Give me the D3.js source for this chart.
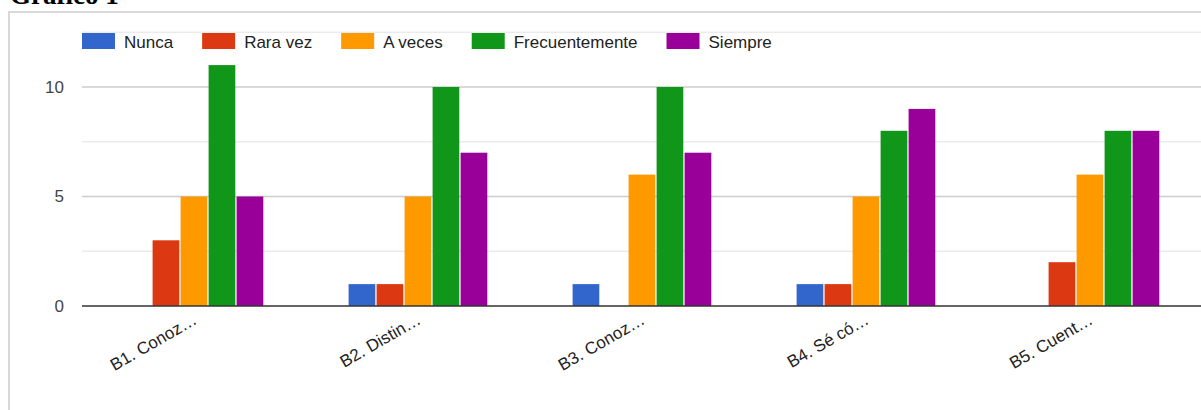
<!DOCTYPE html>
<html>
<head>
<meta charset="utf-8">
<script src="https://cdn.jsdelivr.net/npm/d3@7"></script>
<style>
  body { margin: 0; background: #fff; }
  svg { display: block; font-family: Arial, "Liberation Sans", sans-serif; }
</style>
</head>
<body>
<svg width="1201" height="410"></svg>
<script>
var svg = d3.select("svg"),
  width = +svg.attr("width"),
  height = +svg.attr("height");

// data
var categories = ["B1. Conoz…", "B2. Distin…", "B3. Conoz…", "B4. Sé có…", "B5. Cuent…"];
var seriesNames = ["Nunca", "Rara vez", "A veces", "Frecuentemente", "Siempre"];
var colors = ["#3366cc", "#dc3912", "#ff9900", "#109618", "#990099"];
var nunca = [0, 1, 1, 1, 0];
var raraVez = [3, 1, 0, 1, 2];
var aVeces = [5, 5, 6, 5, 6];
var frecuentemente = [11, 10, 10, 8, 8];
var siempre = [5, 7, 7, 9, 8];
var majorTicks = [0, 5, 10];
var minorTicks = [2.5, 7.5, 12.5];

var values = [nunca, raraVez, aVeces, frecuentemente, siempre];

// chart frame (partly cut title + box)
svg.append("text")
  .attr("x", 10).attr("y", 4)
  .style("font-family", "'Liberation Serif', 'Times New Roman', serif")
  .style("font-weight", "bold")
  .style("font-size", "27px")
  .attr("fill", "#000")
  .text("Gráfico 1");

svg.append("path")
  .attr("d", "M9,410 V12 H1201")
  .attr("fill", "none")
  .attr("stroke", "#d9d9d9")
  .attr("stroke-width", 2);

// scales
var x0 = d3.scaleBand()
  .domain(categories)
  .range([82, 1202])
  .paddingInner(0.375)
  .paddingOuter(0.1875);

var x1 = d3.scaleBand()
  .domain(seriesNames)
  .range([0, x0.bandwidth()]);

var y = d3.scaleLinear()
  .domain([0, 12.5])
  .range([306, 32.25]);

// gridlines
var grid = svg.append("g");
grid.selectAll("line.minor")
  .data(minorTicks)
  .enter().append("line")
  .attr("class", "minor")
  .attr("x1", 82).attr("x2", width)
  .attr("y1", function(d) { return y(d); })
  .attr("y2", function(d) { return y(d); })
  .attr("stroke", "#ebebeb").attr("stroke-width", 1.5);
grid.selectAll("line.major")
  .data(majorTicks.filter(function(d) { return d > 0; }))
  .enter().append("line")
  .attr("class", "major")
  .attr("x1", 82).attr("x2", width)
  .attr("y1", function(d) { return y(d); })
  .attr("y2", function(d) { return y(d); })
  .attr("stroke", "#cccccc").attr("stroke-width", 1.5);

// y axis labels
var yAxis = svg.append("g")
  .attr("transform", "translate(64,0)")
  .call(d3.axisLeft(y).tickValues(majorTicks).tickSize(0).tickPadding(0));
yAxis.select(".domain").remove();
yAxis.selectAll("text")
  .attr("fill", "#444")
  .style("font-size", "17px")
  .style("font-family", "Arial, 'Liberation Sans', sans-serif");

// bars
var groups = svg.append("g")
  .selectAll("g")
  .data(categories)
  .enter().append("g")
  .attr("transform", function(d) { return "translate(" + x0(d) + ",0)"; });

groups.selectAll("rect")
  .data(function(d, i) {
    return seriesNames.map(function(s, j) { return { s: s, j: j, v: values[j][i] }; });
  })
  .enter().append("rect")
  .filter(function(d) { return d.v > 0; })
  .attr("x", function(d) { return x1(d.s) + 0.6; })
  .attr("width", x1.bandwidth() - 1.3)
  .attr("y", function(d) { return y(d.v); })
  .attr("height", function(d) { return y(0) - y(d.v); })
  .attr("fill", function(d) { return colors[d.j]; });

// baseline
svg.append("line")
  .attr("x1", 82).attr("x2", width)
  .attr("y1", y(0)).attr("y2", y(0))
  .attr("stroke", "#333").attr("stroke-width", 1.5);

// x labels, rotated
svg.append("g")
  .selectAll("text")
  .data(categories)
  .enter().append("text")
  .attr("transform", function(d) {
    return "translate(" + (x0(d) + x0.bandwidth() / 2 + 4) + ",323) rotate(-30)";
  })
  .attr("text-anchor", "end")
  .attr("fill", "#222")
  .style("font-size", "17px")
  .text(function(d) { return d; });

// legend
var legend = svg.append("g");
var lx = 82;
seriesNames.forEach(function(name, i) {
  legend.append("rect")
    .attr("x", lx).attr("y", 33)
    .attr("width", 33).attr("height", 16)
    .attr("fill", colors[i]);
  var t = legend.append("text")
    .attr("x", lx + 42).attr("y", 47.5)
    .attr("fill", "#222")
    .style("font-size", "17px")
    .text(name);
  lx = lx + 42 + t.node().getComputedTextLength() + 29;
});
</script>
</body>
</html>
